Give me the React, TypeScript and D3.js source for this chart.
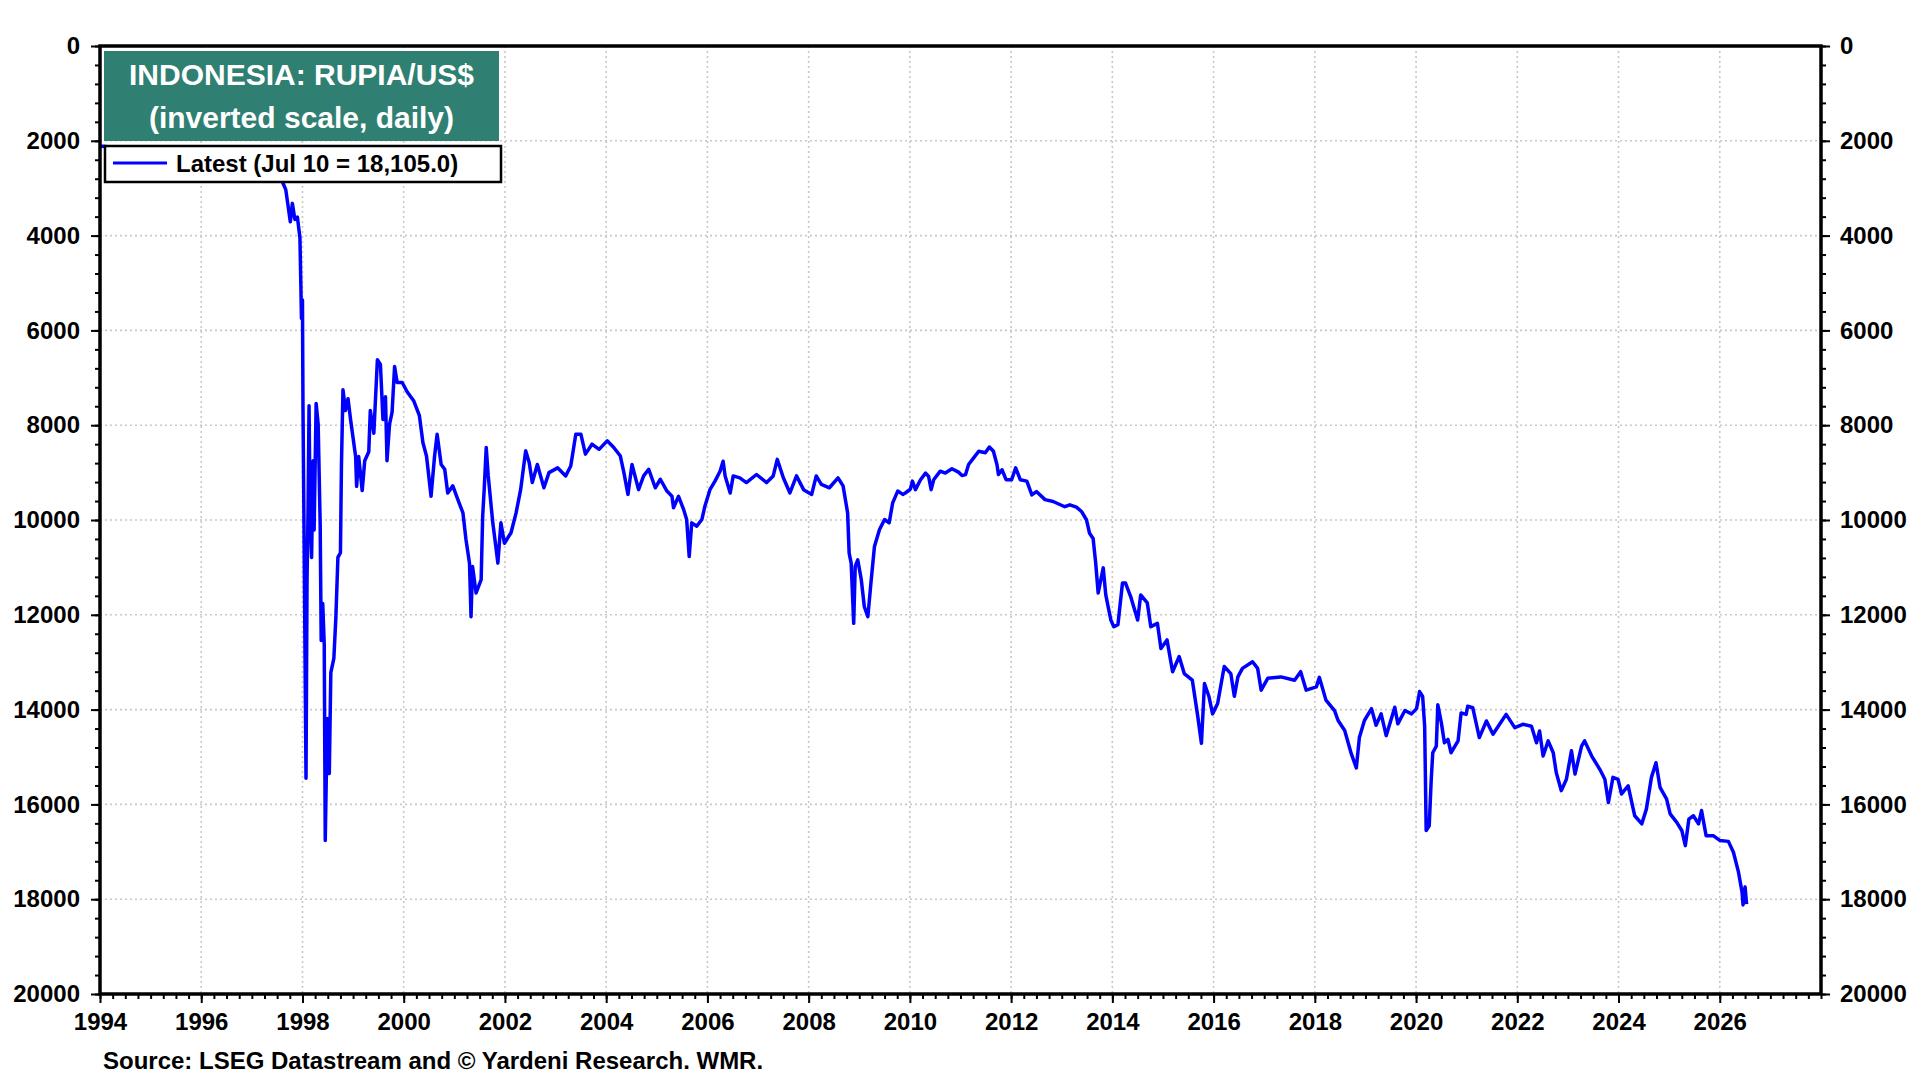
import React, { useEffect, useRef } from 'react';
import * as d3 from 'd3';

// daily IDR per US$ (decimal years)
const years = [
  1994.0, 1994.5, 1995.0, 1995.5, 1996.0, 1996.5, 1997.0, 1997.45, 1997.55, 1997.61,
  1997.67, 1997.76, 1997.8, 1997.85, 1997.9, 1997.95, 1997.97, 1997.98, 1998.0, 1998.01,
  1998.03, 1998.07, 1998.09, 1998.11, 1998.13, 1998.15, 1998.18, 1998.21, 1998.23, 1998.27,
  1998.31, 1998.35, 1998.37, 1998.4, 1998.43, 1998.45, 1998.49, 1998.53, 1998.56, 1998.62,
  1998.66, 1998.7, 1998.75, 1998.77, 1998.8, 1998.85, 1998.9, 1998.95, 1999.05, 1999.07,
  1999.11, 1999.18, 1999.23, 1999.31, 1999.34, 1999.41, 1999.48, 1999.54, 1999.59, 1999.64,
  1999.67, 1999.72, 1999.77, 1999.82, 1999.87, 1999.97, 2000.07, 2000.2, 2000.31, 2000.38,
  2000.45, 2000.48, 2000.54, 2000.61, 2000.66, 2000.74, 2000.81, 2000.87, 2000.97, 2001.07,
  2001.17, 2001.23, 2001.3, 2001.33, 2001.36, 2001.43, 2001.53, 2001.56, 2001.59, 2001.63,
  2001.67, 2001.76, 2001.82, 2001.86, 2001.92, 2001.99, 2002.12, 2002.22, 2002.31, 2002.41,
  2002.48, 2002.54, 2002.64, 2002.77, 2002.87, 2003.04, 2003.2, 2003.3, 2003.4, 2003.5,
  2003.59, 2003.72, 2003.86, 2004.02, 2004.15, 2004.28, 2004.35, 2004.43, 2004.51, 2004.64,
  2004.74, 2004.84, 2004.97, 2005.07, 2005.2, 2005.3, 2005.33, 2005.43, 2005.53, 2005.59,
  2005.64, 2005.69, 2005.79, 2005.89, 2005.95, 2006.05, 2006.15, 2006.25, 2006.31, 2006.35,
  2006.45, 2006.51, 2006.64, 2006.77, 2006.97, 2007.17, 2007.3, 2007.38, 2007.5, 2007.63,
  2007.76, 2007.9, 2008.06, 2008.15, 2008.25, 2008.41, 2008.58, 2008.68, 2008.77, 2008.8,
  2008.84, 2008.89, 2008.92, 2008.97, 2009.04, 2009.1, 2009.17, 2009.23, 2009.3, 2009.4,
  2009.5, 2009.59, 2009.66, 2009.76, 2009.86, 2009.91, 2010.01, 2010.05, 2010.11, 2010.21,
  2010.31, 2010.37, 2010.42, 2010.47, 2010.6, 2010.7, 2010.83, 2010.96, 2011.03, 2011.1,
  2011.16, 2011.26, 2011.36, 2011.49, 2011.57, 2011.65, 2011.72, 2011.75, 2011.82, 2011.9,
  2012.01, 2012.09, 2012.18, 2012.31, 2012.41, 2012.5, 2012.67, 2012.83, 2013.06, 2013.16,
  2013.29, 2013.39, 2013.49, 2013.55, 2013.62, 2013.67, 2013.72, 2013.82, 2013.87, 2013.97,
  2014.03, 2014.11, 2014.2, 2014.26, 2014.36, 2014.5, 2014.56, 2014.69, 2014.76, 2014.89,
  2014.96, 2015.08, 2015.19, 2015.32, 2015.42, 2015.58, 2015.68, 2015.76, 2015.82, 2015.91,
  2015.98, 2016.08, 2016.21, 2016.34, 2016.41, 2016.48, 2016.57, 2016.77, 2016.87, 2016.94,
  2017.07, 2017.33, 2017.6, 2017.72, 2017.83, 2018.03, 2018.09, 2018.22, 2018.39, 2018.46,
  2018.59, 2018.72, 2018.82, 2018.88, 2018.98, 2019.12, 2019.21, 2019.31, 2019.41, 2019.58,
  2019.64, 2019.78, 2019.91, 2020.01, 2020.07, 2020.13, 2020.17, 2020.2, 2020.26, 2020.3,
  2020.33, 2020.4, 2020.43, 2020.5, 2020.56, 2020.63, 2020.69, 2020.83, 2020.89, 2020.99,
  2021.02, 2021.12, 2021.25, 2021.39, 2021.52, 2021.65, 2021.78, 2021.95, 2022.11, 2022.28,
  2022.38, 2022.44, 2022.51, 2022.61, 2022.71, 2022.77, 2022.87, 2022.97, 2023.07, 2023.14,
  2023.27, 2023.33, 2023.47, 2023.63, 2023.73, 2023.8, 2023.89, 2023.99, 2024.06, 2024.19,
  2024.32, 2024.46, 2024.55, 2024.65, 2024.74, 2024.82, 2024.95, 2025.02, 2025.15, 2025.25,
  2025.32, 2025.39, 2025.48, 2025.58, 2025.64, 2025.73, 2025.87, 2026.0, 2026.17, 2026.27,
  2026.37, 2026.44, 2026.46, 2026.5, 2026.53,
];

const rupiah = [
  2110, 2160, 2200, 2250, 2310, 2340, 2380, 2430, 2600, 2880,
  3030, 3710, 3320, 3660, 3610, 4050, 5160, 5750, 5360, 7590,
  10110, 15450, 11280, 9820, 7590, 9820, 10790, 8750, 10210, 7540,
  7980, 10110, 12540, 11760, 12630, 16760, 14190, 15350, 13220, 12920,
  12050, 10790, 10690, 8850, 7250, 7690, 7440, 7880, 8660, 9290,
  8660, 9380, 8750, 8560, 7690, 8170, 6620, 6720, 7880, 7400,
  8750, 7980, 7730, 6760, 7100, 7100, 7300, 7490, 7800, 8370,
  8650, 8930, 9500, 8650, 8190, 8830, 8930, 9430, 9280, 9570,
  9850, 10410, 10910, 12040, 10980, 11540, 11260, 9920, 9360, 8470,
  9070, 10060, 10560, 10910, 10060, 10490, 10270, 9850, 9360, 8540,
  8790, 9210, 8830, 9320, 9000, 8900, 9070, 8860, 8190, 8190,
  8610, 8400, 8510, 8330, 8470, 8650, 9000, 9460, 8830, 9360,
  9070, 8930, 9320, 9140, 9390, 9500, 9740, 9500, 9780, 9990,
  10770, 10060, 10130, 9990, 9710, 9360, 9180, 8970, 8760, 9070,
  9430, 9070, 9110, 9210, 9040, 9210, 9070, 8720, 9110, 9430,
  9070, 9360, 9460, 9070, 9250, 9320, 9110, 9280, 9850, 10700,
  10910, 12180, 10980, 10840, 11260, 11830, 12040, 11330, 10560, 10200,
  9990, 10060, 9640, 9390, 9460, 9430, 9350, 9180, 9360, 9150,
  9010, 9080, 9360, 9150, 8970, 9010, 8920, 8990, 9060, 9040,
  8830, 8690, 8550, 8580, 8460, 8550, 8830, 9040, 8940, 9150,
  9150, 8900, 9150, 9180, 9470, 9400, 9570, 9610, 9720, 9680,
  9730, 9820, 10000, 10280, 10390, 10900, 11540, 11010, 11580, 12110,
  12250, 12210, 11330, 11330, 11610, 12110, 11580, 11750, 12250, 12180,
  12710, 12530, 13200, 12880, 13240, 13380, 14090, 14710, 13450, 13730,
  14090, 13870, 13090, 13240, 13720, 13310, 13130, 12990, 13130, 13590,
  13340, 13310, 13380, 13200, 13590, 13520, 13320, 13800, 14020, 14230,
  14440, 14930, 15230, 14590, 14230, 13980, 14330, 14090, 14550, 13950,
  14300, 14020, 14090, 13980, 13620, 13720, 14350, 16550, 16450, 15470,
  14910, 14770, 13900, 14280, 14700, 14630, 14910, 14660, 14070, 14100,
  13930, 13960, 14590, 14240, 14520, 14310, 14100, 14380, 14310, 14350,
  14700, 14450, 14980, 14660, 14910, 15330, 15710, 15470, 14870, 15360,
  14770, 14660, 14980, 15260, 15470, 15960, 15430, 15470, 15780, 15610,
  16240, 16410, 16100, 15430, 15120, 15640, 15890, 16200, 16380, 16550,
  16870, 16310, 16240, 16410, 16130, 16660, 16660, 16760, 16780, 17010,
  17430, 17850, 18120, 17740, 18105,
];

const yearTicks = [1994, 1996, 1998, 2000, 2002, 2004, 2006, 2008, 2010, 2012, 2014, 2016, 2018, 2020, 2022, 2024, 2026];
const rateTicks = [0, 2000, 4000, 6000, 8000, 10000, 12000, 14000, 16000, 18000, 20000];
const titleLines = ['INDONESIA: RUPIA/US$', '(inverted scale, daily)'];
const legendLabel = 'Latest (Jul 10 = 18,105.0)';
const sourceNote = 'Source: LSEG Datastream and \u00a9 Yardeni Research. WMR.';

const FONT = '"Liberation Sans", Arial, Helvetica, sans-serif';

export default function App() {
  const ref = useRef<SVGSVGElement>(null);

  useEffect(() => {
    const svg = d3.select(ref.current);
    svg.selectAll('*').remove();

    const left = 100, right = 1821, top = 46, bottom = 994;

    const xScale = d3.scaleLinear().domain([1994, 2028]).range([left, right]);
    // inverted scale: 0 at top
    const yScale = d3.scaleLinear().domain([0, 20000]).range([top, bottom]);

    svg.append('rect').attr('width', 1920).attr('height', 1080).attr('fill', '#fff');

    // grid
    const grid = svg.append('g')
      .attr('stroke', '#c8c8c8')
      .attr('stroke-width', 1.6)
      .attr('stroke-dasharray', '2,3');
    yearTicks.filter(t => t > 1994).forEach(t => {
      grid.append('line')
        .attr('x1', xScale(t)).attr('x2', xScale(t))
        .attr('y1', top).attr('y2', bottom);
    });
    rateTicks.filter(t => t > 0 && t < 20000).forEach(t => {
      grid.append('line')
        .attr('x1', left).attr('x2', right)
        .attr('y1', yScale(t)).attr('y2', yScale(t));
    });

    svg.append('clipPath').attr('id', 'plot-clip')
      .append('rect')
      .attr('x', left).attr('y', top)
      .attr('width', right - left).attr('height', bottom - top);

    const points = years.map((yr, i) => [yr, rupiah[i]] as [number, number]);
    const lineFn = d3.line<[number, number]>()
      .x(d => xScale(d[0]))
      .y(d => yScale(d[1]));

    svg.append('path')
      .attr('d', lineFn(points)!)
      .attr('clip-path', 'url(#plot-clip)')
      .attr('fill', 'none')
      .attr('stroke', '#0000ff')
      .attr('stroke-width', 3.5)
      .attr('stroke-linejoin', 'round');

    // title box
    svg.append('rect')
      .attr('x', 104).attr('y', 51)
      .attr('width', 395).attr('height', 90)
      .attr('fill', '#2f7f72');
    titleLines.forEach((t, i) => {
      svg.append('text')
        .attr('x', 301.5).attr('y', 85 + i * 43)
        .attr('text-anchor', 'middle')
        .attr('fill', '#fff')
        .attr('font-family', FONT)
        .attr('font-weight', 'bold')
        .attr('font-size', 30)
        .text(t);
    });

    // legend
    svg.append('rect')
      .attr('x', 105).attr('y', 146)
      .attr('width', 396).attr('height', 36)
      .attr('fill', '#fff')
      .attr('stroke', '#000')
      .attr('stroke-width', 2.5);
    svg.append('line')
      .attr('x1', 113).attr('x2', 167)
      .attr('y1', 163).attr('y2', 163)
      .attr('stroke', '#0000ff')
      .attr('stroke-width', 3);
    svg.append('text')
      .attr('x', 176).attr('y', 172)
      .attr('font-family', FONT)
      .attr('font-weight', 'bold')
      .attr('font-size', 24)
      .text(legendLabel);

    // axes
    const styleAxis = (g: any) => {
      g.select('.domain').remove();
      g.selectAll('.tick line').attr('stroke', '#000').attr('stroke-width', 2);
      g.selectAll('.tick text')
        .attr('fill', '#000')
        .attr('font-family', FONT)
        .attr('font-weight', 'bold')
        .attr('font-size', 24);
    };

    const minorRates = d3.range(0, 20001, 400);
    const minorYears = d3.range(1994, 2028.01, 0.25);

    svg.append('g').attr('transform', `translate(${left},0)`)
      .call(d3.axisLeft(yScale).tickValues(minorRates).tickSize(5).tickFormat(() => ''))
      .call(styleAxis);
    svg.append('g').attr('transform', `translate(${left},0)`)
      .call(d3.axisLeft(yScale).tickValues(rateTicks).tickSize(9).tickPadding(11).tickFormat(d3.format('d')))
      .call(styleAxis);

    svg.append('g').attr('transform', `translate(${right},0)`)
      .call(d3.axisRight(yScale).tickValues(minorRates).tickSize(5).tickFormat(() => ''))
      .call(styleAxis);
    svg.append('g').attr('transform', `translate(${right},0)`)
      .call(d3.axisRight(yScale).tickValues(rateTicks).tickSize(9).tickPadding(10).tickFormat(d3.format('d')))
      .call(styleAxis);

    svg.append('g').attr('transform', `translate(0,${bottom})`)
      .call(d3.axisBottom(xScale).tickValues(minorYears).tickSize(5).tickFormat(() => ''))
      .call(styleAxis);
    svg.append('g').attr('transform', `translate(0,${bottom})`)
      .call(d3.axisBottom(xScale).tickValues(yearTicks).tickSize(9).tickPadding(10).tickFormat(d3.format('d')))
      .call(styleAxis);

    // frame
    svg.append('rect')
      .attr('x', left).attr('y', top)
      .attr('width', right - left).attr('height', bottom - top)
      .attr('fill', 'none')
      .attr('stroke', '#000')
      .attr('stroke-width', 3.5);

    svg.append('text')
      .attr('x', 103).attr('y', 1069)
      .attr('font-family', FONT)
      .attr('font-weight', 'bold')
      .attr('font-size', 24)
      .text(sourceNote);
  }, []);

  return (
    <div style={{ position: 'absolute', left: 0, top: 0 }}>
      <svg ref={ref} width={1920} height={1080} />
    </div>
  );
}
